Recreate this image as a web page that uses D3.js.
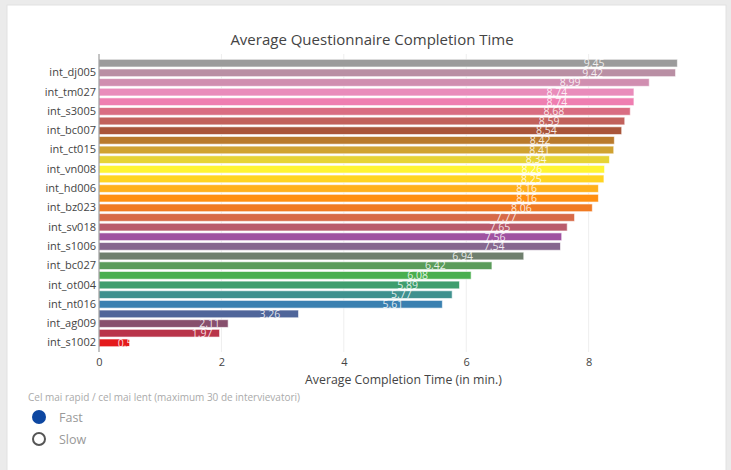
<!DOCTYPE html>
<html>
<head>
<meta charset="utf-8">
<script src="https://cdn.jsdelivr.net/npm/d3@7"></script>
<style>
    body { margin: 0; background: #ebebeb; font-family: "Open Sans", sans-serif; }
    #chart { width: 731px; height: 470px; }
</style>
</head>
<body>
<div id="chart"></div>
<script>
// bar values, top to bottom
let values = [9.45, 9.42, 8.99, 8.74, 8.74, 8.68, 8.59, 8.54, 8.42, 8.41,
    8.34, 8.26, 8.25, 8.16, 8.16, 8.06, 7.77, 7.65, 7.56, 7.54,
    6.94, 6.42, 6.08, 5.89, 5.77, 5.61, 3.26, 2.11, 1.97, 0.5];

// only every other row has a visible label
let rowLabels = ["", "int_dj005", "", "int_tm027", "", "int_s3005", "", "int_bc007", "", "int_ct015",
    "", "int_vn008", "", "int_hd006", "", "int_bz023", "", "int_sv018", "", "int_s1006",
    "", "int_bc027", "", "int_ot004", "", "int_nt016", "", "int_ag009", "", "int_s1002"];

let barColors = ["#9b9b9b", "#b98fa4", "#d08eb0", "#e98cbb", "#ef7eb1", "#d96c82", "#c1615c", "#a9553a", "#b97a2c", "#d0a231",
    "#e6d335", "#fff533", "#ffd422", "#ffb01c", "#ff8f10", "#f07a22", "#d76a48", "#b95b6c", "#9f52a1", "#86678f",
    "#6f7f6e", "#5a9c5a", "#4aaf4f", "#3f9e6e", "#3f918e", "#3a80b0", "#50669a", "#874f6d", "#b9344a", "#e41a1c"];

let xTicks = [0, 2, 4, 6, 8];

let legendTitle = "Cel mai rapid / cel mai lent (maximum 30 de intervievatori)";
let legendItems = ["Fast", "Slow"];

let W = 731, H = 470;

let svg = d3.select("#chart").append("svg")
    .attr("width", W)
    .attr("height", H);

// card
svg.append("rect")
    .attr("x", 7).attr("y", 5)
    .attr("width", 719).attr("height", H)
    .attr("fill", "#fff")
    .attr("stroke", "#e2e2e2");

let plot = {left: 99, right: 708, top: 54, bottom: 352};

let xScale = d3.scaleLinear().domain([0, 9.95]).range([plot.left, plot.right]);
// value labels sit at a compressed position inside the bars
let xText = d3.scaleLinear().domain([0, 9.95]).range([plot.left, plot.left + 9.95 * 52.4]);
let yScale = d3.scaleBand()
    .domain(d3.range(values.length))
    .range([plot.top, plot.bottom])
    .paddingInner(0.2)
    .paddingOuter(0.55);

// grid lines
svg.append("g")
    .selectAll("line")
    .data(xTicks.filter(d => d > 0))
    .enter()
    .append("line")
    .attr("x1", d => xScale(d)).attr("x2", d => xScale(d))
    .attr("y1", plot.top).attr("y2", plot.bottom)
    .attr("stroke", "#eeeeee");

// bars
svg.append("g")
    .selectAll("rect")
    .data(values)
    .enter()
    .append("rect")
    .attr("x", xScale(0))
    .attr("y", (d, i) => yScale(i))
    .attr("width", d => xScale(d) - xScale(0))
    .attr("height", yScale.bandwidth())
    .attr("fill", (d, i) => barColors[i])
    .attr("stroke", "rgba(255,255,255,0.6)")
    .attr("stroke-width", 1);

// value labels
svg.append("g")
    .selectAll("text")
    .data(values)
    .enter()
    .append("text")
    .attr("x", d => xText(d))
    .attr("y", (d, i) => yScale(i) + yScale.bandwidth() / 2)
    .attr("dy", "0.36em")
    .attr("text-anchor", "middle")
    .style("font-size", "10.5px")
    .style("fill", "rgba(255,255,255,0.85)")
    .text(d => d);

// zero line
svg.append("line")
    .attr("x1", xScale(0)).attr("x2", xScale(0))
    .attr("y1", plot.top).attr("y2", plot.bottom)
    .attr("stroke", "#8a8a8a");

// y axis
let yAxis = svg.append("g")
    .attr("transform", `translate(${plot.left - 1},0)`)
    .call(d3.axisLeft(yScale).tickSize(0).tickPadding(2).tickFormat(i => rowLabels[i]));
yAxis.select(".domain").remove();
yAxis.selectAll("text")
    .style("font-family", "'Open Sans', sans-serif")
    .style("font-size", "11px")
    .style("fill", "#444");

// x axis
let xAxis = svg.append("g")
    .attr("transform", `translate(0,${plot.bottom})`)
    .call(d3.axisBottom(xScale).tickValues(xTicks).tickSize(0).tickPadding(6));
xAxis.select(".domain").remove();
xAxis.selectAll("text")
    .style("font-family", "'Open Sans', sans-serif")
    .style("font-size", "11px")
    .style("fill", "#444");

// titles
svg.append("text")
    .attr("x", 372).attr("y", 45)
    .attr("text-anchor", "middle")
    .style("font-size", "15px")
    .style("fill", "#444")
    .text("Average Questionnaire Completion Time");

svg.append("text")
    .attr("x", (plot.left + plot.right) / 2).attr("y", 384)
    .attr("text-anchor", "middle")
    .style("font-size", "12.3px")
    .style("fill", "#444")
    .text("Average Completion Time (in min.)");

// radio legend
svg.append("text")
    .attr("x", 28).attr("y", 401)
    .style("font-size", "10px")
    .style("fill", "#aaa")
    .text(legendTitle);

let legend = svg.append("g")
    .selectAll("g")
    .data(legendItems)
    .enter()
    .append("g")
    .attr("transform", (d, i) => `translate(39,${417 + i * 22})`);

legend.append("circle")
    .attr("r", (d, i) => i === 0 ? 7 : 6)
    .attr("fill", (d, i) => i === 0 ? "#0d47a1" : "#fff")
    .attr("stroke", (d, i) => i === 0 ? "#0d47a1" : "#555")
    .attr("stroke-width", (d, i) => i === 0 ? 0 : 2);

legend.append("text")
    .attr("x", 20)
    .attr("dy", "0.36em")
    .style("font-size", "12.5px")
    .style("fill", "#999")
    .text(d => d);
</script>
</body>
</html>
